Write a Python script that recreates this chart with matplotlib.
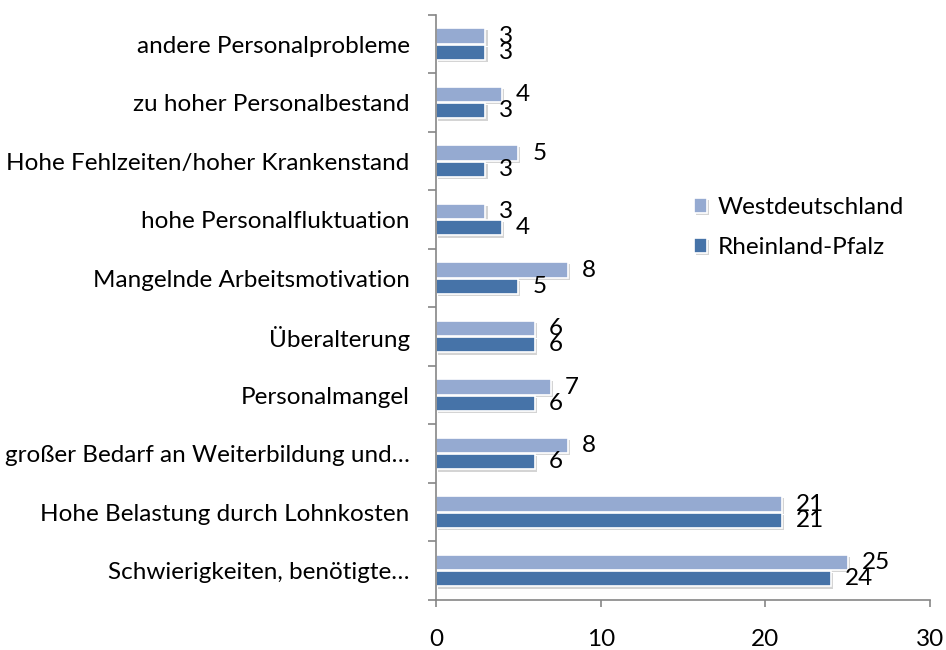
import numpy as np
import matplotlib
matplotlib.use('Agg')
import matplotlib.pyplot as plt
import matplotlib.patheffects as pe
from matplotlib.ticker import FixedLocator

categories = ['andere Personalprobleme', 'zu hoher Personalbestand', 'Hohe Fehlzeiten/hoher Krankenstand',
              'hohe Personalfluktuation', 'Mangelnde Arbeitsmotivation', 'Überalterung', 'Personalmangel',
              'großer Bedarf an Weiterbildung und…', 'Hohe Belastung durch Lohnkosten', 'Schwierigkeiten, benötigte…']
west = [3, 4, 5, 3, 8, 6, 7, 8, 21, 25]
rlp = [3, 3, 3, 4, 5, 6, 6, 6, 21, 24]
series = [('Westdeutschland', west, '#95AAD1'), ('Rheinland-Pfalz', rlp, '#4673A8')]

plt.rcParams['font.family'] = ['Lato', 'DejaVu Sans']
fs = 17.5
fig = plt.figure(figsize=(9.46, 6.5), dpi=100)
ax = fig.add_axes([0.461, 0.077, 0.522, 0.9])

n = len(categories)
y = np.arange(n)
h = 0.26
shadow = [pe.withSimplePatchShadow(offset=(1.5, -1.5), shadow_rgbFace='#aaaaaa', alpha=0.5)]
for i, (name, vals, col) in enumerate(series):
    off = -h / 2 - 0.01 if i == 0 else h / 2 + 0.01
    bars = ax.barh(y + off, vals, height=h, color=col, edgecolor='white', linewidth=1.2,
                   label=name, path_effects=shadow)
    for b, v in zip(bars, vals):
        ax.annotate(str(v), (v, b.get_y() + b.get_height() / 2), xytext=(10, 0),
                    textcoords='offset points', va='center', ha='left', fontsize=fs)

ax.set_ylim(n - 0.5, -0.5)
ax.set_xlim(0, 30)
ax.set_yticks(y)
ax.set_yticklabels(categories, fontsize=fs)
ax.yaxis.set_minor_locator(FixedLocator(np.arange(-0.5, n, 1)))
ax.tick_params(axis='y', which='major', length=0, pad=19)
ax.tick_params(axis='y', which='minor', length=6, color='#868686', width=1.2)
ax.set_xticks([0, 10, 20, 30])
ax.tick_params(axis='x', length=5, color='#868686', width=1.2, pad=16, labelsize=fs)
for s in ['top', 'right']:
    ax.spines[s].set_visible(False)
for s in ['left', 'bottom']:
    ax.spines[s].set_color('#868686')
    ax.spines[s].set_linewidth(1.2)

fig.legend(loc='center left', bbox_to_anchor=(0.71, 0.65), frameon=False, fontsize=fs,
           handlelength=0.55, handleheight=0.55, handletextpad=0.45, labelspacing=0.8)

fig.savefig('out.png', dpi=100)
